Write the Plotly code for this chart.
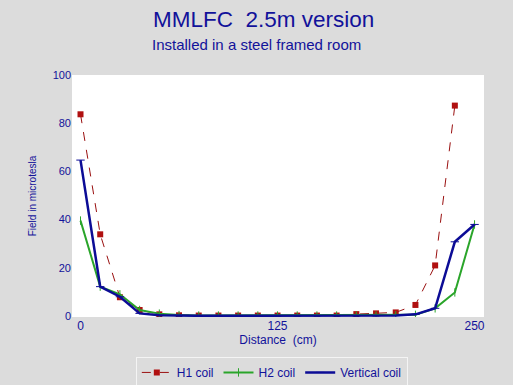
import plotly.graph_objects as go

distance = [0, 12.5, 25, 37.5, 50, 62.5, 75, 87.5, 100, 112.5, 125, 137.5, 150,
            162.5, 175, 187.5, 200, 212.5, 225, 237.5, 250]
h1_x = distance[:20]
h1_coil = [83.7, 33.9, 7.8, 2.5, 0.7, 0.3, 0.2, 0.2, 0.2, 0.2, 0.2, 0.2, 0.2,
           0.2, 0.8, 1.1, 1.5, 4.6, 21.0, 87.3]
h2_coil = [39.6, 12.2, 9.0, 2.5, 1.0, 0.4, 0.2, 0.2, 0.2, 0.2, 0.2, 0.2, 0.2,
           0.2, 0.2, 0.2, 0.3, 0.5, 3.2, 9.8, 38.0]
vertical_coil = [64.7, 12.2, 8.0, 1.1, 0.3, 0.1, 0.1, 0.1, 0.1, 0.1, 0.1, 0.1, 0.1,
                 0.1, 0.1, 0.1, 0.2, 0.7, 3.2, 30.8, 38.0]
x_ticks = [0, 125, 250]
y_ticks = [0, 20, 40, 60, 80, 100]

FONT = "Liberation Sans, Arial, sans-serif"
NAVY = "#12129a"

fig = go.Figure()
fig.add_trace(go.Scatter(x=h1_x, y=h1_coil, name="H1 coil", mode="lines+markers",
                         line=dict(color="#9a1010", width=1, dash="dash"),
                         marker=dict(symbol="square", size=6, color="#b01010")))
fig.add_trace(go.Scatter(x=distance, y=h2_coil, name="H2 coil", mode="lines+markers",
                         line=dict(color="#2aa52a", width=2),
                         marker=dict(symbol="line-ns", size=6,
                                     line=dict(color="#2aa52a", width=1))))
fig.add_trace(go.Scatter(x=distance, y=vertical_coil, name="Vertical coil", mode="lines+markers",
                         line=dict(color="#0c0c96", width=2.5),
                         marker=dict(symbol="line-ew", size=6,
                                     line=dict(color="#0c0c96", width=1))))

fig.update_layout(
    width=513, height=385,
    margin=dict(l=72, r=29, t=75, b=68, autoexpand=False),
    paper_bgcolor="#dcdcdc", plot_bgcolor="white",
    font=dict(family=FONT, color=NAVY, size=11),
    showlegend=True,
    legend=dict(orientation="h", x=0.485, xanchor="center", y=-0.165, yanchor="top",
                bgcolor="rgba(0,0,0,0)", bordercolor="#f4f4f4", borderwidth=1,
                font=dict(size=12, color=NAVY), itemwidth=30),
    xaxis=dict(range=[-5.4, 256], tickvals=x_ticks, showgrid=False, zeroline=False,
               showline=False, ticks="", tickfont=dict(size=12, color=NAVY), automargin=False,
               title=dict(text="Distance  (cm)", font=dict(size=12, color=NAVY), standoff=0)),
    yaxis=dict(range=[-0.4, 100], tickvals=y_ticks, showgrid=False, zeroline=False,
               showline=False, ticks="", tickfont=dict(size=11, color=NAVY), automargin=False,
               title=dict(text="Field in microtesla", font=dict(size=10, color=NAVY), standoff=14)),
)
fig.add_annotation(text="MMLFC  2.5m version", xref="paper", yref="paper",
                   x=(263 - 72) / 412, y=(317 - 19) / 242, xanchor="center", yanchor="middle",
                   showarrow=False, font=dict(size=22.5, color=NAVY))
fig.add_annotation(text="Installed in a steel framed room", xref="paper", yref="paper",
                   x=(256 - 72) / 412, y=(317 - 44) / 242, xanchor="center", yanchor="middle",
                   showarrow=False, font=dict(size=15, color=NAVY))

fig.write_html("out.html", config={"displayModeBar": False},
               post_script="document.body.style.margin='0';document.body.style.overflow='hidden';")
